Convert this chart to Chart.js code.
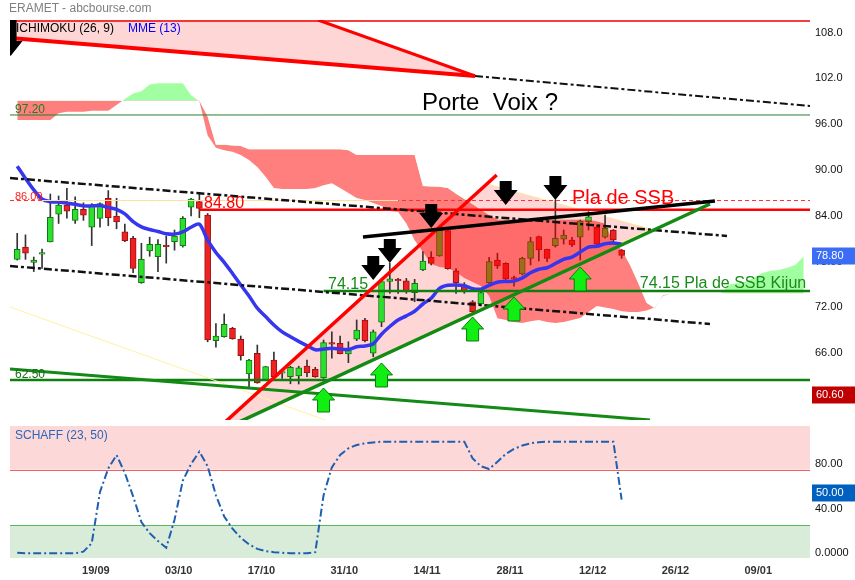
<!DOCTYPE html>
<html>
<head>
<meta charset="utf-8">
<script src="https://cdn.jsdelivr.net/npm/chart.js@4.4.0/dist/chart.umd.min.js"></script>
<style>
  body { margin: 0; background: #fff; width: 855px; height: 580px; overflow: hidden; position: relative; }
  #main { position: absolute; left: 0; top: 0; }
  #osc { position: absolute; left: 0; top: 423px; }
  #title { position: absolute; left: 9px; top: 1px; font: 12px "Liberation Sans", Arial, sans-serif; color: #808080; }
</style>
</head>
<body>
<canvas id="main" width="855" height="423"></canvas>
<canvas id="osc" width="855" height="157"></canvas>
<div id="title">ERAMET - abcbourse.com</div>
<script>
// daily candles, index 0 = 05/09
const opens = [78.3,79.9,77.9,78.96,80.57,84.2,85.4,83.4,84.85,82.5,
  83.67,86.3,83.97,81.9,81.05,75.24,79.4,78.65,80.14,80.6,
  80.05,85.13,85.85,84.1,67.65,68.17,69.27,67.83,63.3,66.0,
  62.5,65.12,63.46,62.94,63.03,64.33,63.9,62.8,67.4,67.3,
  65.9,67.83,70.36,66.0,70.06,75.42,75.62,75.5,73.93,76.9,
  78.57,78.76,82.05,76.81,74.94,72.75,72.45,75.24,78.21,77.78,
  75.9,76.38,78.43,81.27,79.6,80.08,80.93,80.83,81.19,83.23,
  82.49,81.19,82.14,79.52];
const highs = [81.7,81.5,78.6,79.65,86.85,86.6,87.6,86.5,85.7,85.6,
  85.7,87.3,86.3,82.9,81.3,80.4,81.2,80.9,81.36,82.14,
  83.9,86.3,87.0,84.3,69.9,71.14,69.4,68.26,65.2,67.08,
  64.3,66.16,63.8,64.3,64.3,65.12,64.16,67.74,68.8,68.26,
  67.5,70.36,70.58,69.05,75.6,77.8,75.8,75.8,75.68,79.3,
  79.3,82.3,82.14,77.1,75.24,72.9,74.06,78.57,79.1,77.86,
  76.1,78.57,81.19,81.36,79.65,86.07,82.14,81.19,83.45,84.54,
  82.8,84.1,82.2,79.6];
const lows = [78.2,78.3,76.7,77.1,80.57,83.0,83.7,83.0,83.4,80.1,
  82.5,82.7,82.3,80.6,76.55,75.16,78.7,76.7,77.8,79.5,
  79.9,83.97,83.75,67.5,66.8,68.1,67.83,65.1,61.6,62.07,
  62.4,62.6,62.7,62.0,61.97,62.94,62.85,62.7,65.35,65.9,
  64.77,67.65,67.5,65.55,69.48,73.85,73.85,73.85,72.75,76.8,
  77.56,78.7,77.0,73.85,73.85,71.3,72.2,75.16,77.1,75.5,
  74.8,76.25,77.56,78.1,78.0,79.9,80.3,79.95,78.21,82.14,
  79.95,81.07,80.6,78.43];
const closes = [79.6,79.1,78.2,79.2,83.8,85.4,84.6,84.85,84.07,85.4,
  85.6,83.75,83.2,80.74,77.1,78.3,80.27,80.27,79.96,81.36,
  83.67,86.2,84.98,67.74,68.26,69.8,67.9,65.68,65.12,62.1,
  64.25,62.94,63.55,64.16,64.1,63.46,62.94,67.4,67.2,65.95,
  66.34,69.05,67.65,68.8,75.37,75.75,75.55,74.06,75.16,78.08,
  77.78,82.14,77.07,75.24,74.06,71.45,73.93,77.99,77.43,75.72,
  75.7,78.43,80.61,79.52,78.43,81.05,81.49,80.18,83.32,83.88,
  80.3,82.36,80.83,78.8];

// MME (13)
const mme = [90.5,88.9,87.4,86.2,85.85,85.8,85.65,85.5,85.3,85.3,
  85.35,85.1,84.85,84.25,83.25,82.55,82.2,81.95,81.65,81.6,
  81.9,82.5,82.9,80.8,79.2,77.9,76.45,74.95,73.5,71.9,
  70.8,69.7,68.8,68.15,67.55,67.0,66.45,66.55,66.65,66.55,
  66.5,66.85,66.95,67.25,68.5,69.5,70.35,70.9,71.5,72.45,
  73.2,74.5,74.9,74.95,74.85,74.45,74.4,74.9,75.3,75.4,
  75.45,75.85,76.55,77.0,77.2,77.75,78.3,78.6,79.25,79.9,
  80.0,80.35,80.45,80.3];

// Ichimoku cloud, index 0..95 (already shifted forward)
const ssa = [96.55,96.55,96.55,96.55,96.55,97.42,97.63,97.63,97.63,97.76,
  97.76,97.76,98.5,99.3,100.0,100.3,101.2,101.35,101.35,101.35,
  101.35,99.8,99.0,94.5,92.9,92.6,92.4,91.96,91.3,90.4,
  89.1,87.64,87.5,87.5,87.5,87.5,87.64,88.0,88.26,87.64,
  86.99,86.33,86.07,85.68,85.28,84.63,84.5,83.0,80.8,79.3,
  77.7,77.3,77.17,76.64,75.86,75.33,74.8,73.5,70.6,70.36,
  70.1,69.96,70.2,70.36,70.1,69.96,70.1,70.36,70.62,71.4,
  72.2,72.0,71.8,71.5,71.4,71.4,71.6,72.0,73.5,73.9,
  73.9,73.9,73.9,73.9,73.9,73.9,75.0,75.2,75.4,75.9,
  76.5,76.8,76.9,77.2,77.6,78.7];
const ssb = [99.07,99.07,99.07,99.07,99.07,99.07,99.07,99.07,99.07,99.07,
  99.07,99.07,99.07,99.07,99.07,99.07,99.07,99.07,99.07,99.07,
  99.07,99.07,99.07,97.0,93.3,93.3,93.2,93.15,92.7,92.7,
  92.7,92.7,92.7,92.7,92.7,92.7,92.7,92.7,92.7,92.7,
  92.6,91.96,91.96,91.96,91.96,91.96,91.96,91.96,91.96,87.9,
  87.85,87.8,87.65,86.9,86.2,85.5,84.8,84.1,83.5,83.5,
  83.5,83.5,83.5,83.5,83.5,83.5,83.5,83.5,83.5,83.5,
  83.3,83.0,80.5,79.6,77.6,75.2,72.6,71.9,73.6,73.9,
  73.9,73.9,73.9,73.9,73.9,73.9,73.85,73.85,73.85,73.85,
  73.85,73.85,73.85,73.85,73.85,73.85];

// SCHAFF (23, 50)
const schaff = [0.5,0,0,0,0,0,0,0,1.5,9,
  55,76,88,72,51,28,18,11,5,30,
  65,80,91,78,52,33,22,14,8,4,
  2,1,0.5,0,0,0,1,52,77,88,
  94,97,98.5,99.3,100,100,100,100,100,100,
  100,100,100,100,100,85,78,75.5,82,89,
  93.5,96.5,98.5,99.5,100,100,100,100,100,100,
  100,100,100,48];

const mondayIdx = [10, 20, 30, 40, 50, 60, 70, 80, 90];
const mondayLabels = ['19/09', '03/10', '17/10', '31/10', '14/11', '28/11', '12/12', '26/12', '09/01'];
const priceTicks = [60, 66, 72, 78, 84, 90, 96, 102, 108];
const schaffTicks = [0, 40, 80];

// drawings, in (index, price)
const topLevel = 109.5;
const level97 = 97.20, level86 = 86.00, level8480 = 84.80, level7415 = 74.15, level6250 = 62.50;
const porteVoixRed = [[-0.87, 107.28], [55.29, 102.31]];
const porteVoixDash = [[55.29, 102.31], [95.75, 98.38]];
const porteVoixSteep = [[36.33, 109.64], [55.29, 102.31]];
const porteVoixZone = [[-2, 112], [30.2, 112], [55.29, 102.31], [-2, 107.38]];
const channelTop = [[-0.87, 88.95], [85.72, 81.36]];
const channelBottom = [[-0.87, 77.43], [83.67, 69.83]];
const resistance = [[41.76, 81.22], [84.27, 85.94]];
const redRise = [[23.4, 55.3], [57.91, 89.34]];
const greenRise = [[23.4, 55.3], [83.67, 85.55]];
const greenFall = [[-0.87, 63.94], [76.43, 57.26]];
const paleFall = [[-0.87, 72.06], [37.2, 57.26]];
const wedge = [[23.4, 55.3], [56.74, 88.17], [76.42, 82.27]];
const blackArrows = [[50, 82.4], [43, 75.6], [45, 77.82], [59, 85.42], [65, 86.07]];
const edgeArrow = [-0.8, 104.93];
const greenArrows = [[37, 61.45], [44, 64.73], [55, 70.75], [60, 73.37], [68, 77.3]];
const notes = [
  { text: '84.80', at: [22.56, 85.02], color: '#ff0000', size: 16 },
  { text: '74.15', at: [37.54, 74.35], color: '#1a8a1a', size: 16 },
  { text: 'Pla de SSB', at: [67.0, 85.55], color: '#ff0000', size: 20 },
  { text: '74.15 Pla de SSB Kijun', at: [75.2, 74.55], color: '#1a8a1a', size: 16 },
  { text: 'Porte  Voix ?', at: [48.89, 97.85], color: '#000000', size: 24 }
];
const lastPrice = 78.80, lowMark = 60.60, lastSchaff = 50.00;

const FONT = '"Liberation Sans", Arial, sans-serif';
Chart.defaults.font.family = FONT;

function P(chart, pt) {
  return [chart.scales.x.getPixelForValue(pt[0]), chart.scales.y.getPixelForValue(pt[1])];
}
function line(ctx, chart, pts, color, width, dash) {
  ctx.save();
  ctx.strokeStyle = color;
  ctx.lineWidth = width;
  ctx.setLineDash(dash || []);
  ctx.beginPath();
  pts.forEach((pt, k) => { const [x, y] = P(chart, pt); k ? ctx.lineTo(x, y) : ctx.moveTo(x, y); });
  ctx.stroke();
  ctx.restore();
}
function hline(ctx, chart, from, value, color, width, dash) {
  line(ctx, chart, [[from, value], [chart.scales.x.max, value]], color, width, dash);
}
function poly(ctx, chart, pts, fill, stroke) {
  ctx.beginPath();
  pts.forEach((pt, k) => { const [x, y] = P(chart, pt); k ? ctx.lineTo(x, y) : ctx.moveTo(x, y); });
  ctx.closePath();
  ctx.fillStyle = fill;
  ctx.fill();
  if (stroke) { ctx.strokeStyle = stroke; ctx.lineWidth = 1; ctx.stroke(); }
}
function downArrow(ctx, x, y, stem) {
  ctx.beginPath();
  ctx.moveTo(x, y);
  ctx.lineTo(x - 12, y - 15);
  ctx.lineTo(x - 6, y - 15);
  ctx.lineTo(x - 6, y - 15 - stem);
  ctx.lineTo(x + 6, y - 15 - stem);
  ctx.lineTo(x + 6, y - 15);
  ctx.lineTo(x + 12, y - 15);
  ctx.closePath();
  ctx.fillStyle = '#000';
  ctx.fill();
}
function upArrow(ctx, x, y) {
  ctx.beginPath();
  ctx.moveTo(x, y);
  ctx.lineTo(x + 11, y + 12);
  ctx.lineTo(x + 6, y + 12);
  ctx.lineTo(x + 6, y + 24);
  ctx.lineTo(x - 6, y + 24);
  ctx.lineTo(x - 6, y + 12);
  ctx.lineTo(x - 11, y + 12);
  ctx.closePath();
  ctx.fillStyle = '#11ee11';
  ctx.fill();
  ctx.strokeStyle = '#0a7a0a';
  ctx.lineWidth = 1;
  ctx.stroke();
}
function valueBox(ctx, chart, scale, value, text, bg, shift) {
  const y = scale.getPixelForValue(value) - (shift || 0);
  const x = chart.chartArea.right + 2;
  ctx.fillStyle = bg;
  ctx.fillRect(x, y - 8, chart.width - x, 17);
  ctx.fillStyle = '#fff';
  ctx.font = '11px ' + FONT;
  ctx.textBaseline = 'middle';
  ctx.textAlign = 'left';
  ctx.fillText(text, x + 4, y);
}
function flatAxis(s) {
  s.width = 45;
  s.paddingTop = 0;
  s.paddingBottom = 0;
}

const drawings = {
  id: 'drawings',
  beforeDatasetsDraw(chart) {
    const ctx = chart.ctx, a = chart.chartArea;
    ctx.save();
    ctx.beginPath();
    ctx.rect(a.left, a.top, a.right - a.left, a.bottom - a.top);
    ctx.clip();
    poly(ctx, chart, porteVoixZone, 'rgba(255,0,0,0.16)');
    poly(ctx, chart, wedge, 'rgba(255,0,0,0.16)', '#ffe49a');
    ctx.restore();
  },
  afterDatasetsDraw(chart) {
    const ctx = chart.ctx, a = chart.chartArea, xs = chart.scales.x, ys = chart.scales.y;
    ctx.save();
    ctx.beginPath();
    ctx.rect(a.left, a.top, a.right - a.left, a.bottom - a.top);
    ctx.clip();

    hline(ctx, chart, xs.min, topLevel, '#ee0000', 1.5);
    hline(ctx, chart, xs.min, level97, '#2a7d2a', 1);
    hline(ctx, chart, xs.min, level86, '#ff3030', 1, [4, 3]);
    line(ctx, chart, [[3, level86], [46, level86]], '#ffe3a0', 1);
    hline(ctx, chart, 22, level8480, '#ff0000', 2.5);
    hline(ctx, chart, 37, level7415, '#0f800f', 2.5);
    hline(ctx, chart, xs.min, level6250, '#0f800f', 2.5);

    line(ctx, chart, paleFall, '#fff2a0', 1);
    line(ctx, chart, channelTop, '#111', 2.5, [8, 3, 3, 3]);
    line(ctx, chart, channelBottom, '#111', 2.5, [8, 3, 3, 3]);
    line(ctx, chart, porteVoixDash, '#111', 2, [8, 3, 3, 3]);
    line(ctx, chart, porteVoixRed, '#ff0000', 4);
    line(ctx, chart, porteVoixSteep, '#ff0000', 3);
    line(ctx, chart, greenFall, '#138a13', 3);
    line(ctx, chart, redRise, '#ff0000', 3.5);
    line(ctx, chart, greenRise, '#138a13', 3.5);
    line(ctx, chart, resistance, '#000', 3.5);

    blackArrows.forEach(pt => { const [x, y] = P(chart, pt); downArrow(ctx, x, y, 9); });
    { const [x, y] = P(chart, edgeArrow); downArrow(ctx, x, y, 22); }
    greenArrows.forEach(pt => { const [x, y] = P(chart, pt); upArrow(ctx, x, y); });
    ctx.restore();

    ctx.save();
    ctx.textAlign = 'left';
    ctx.textBaseline = 'alphabetic';
    notes.forEach(n => {
      const [x, y] = P(chart, n.at);
      ctx.font = n.size + 'px ' + FONT;
      ctx.fillStyle = n.color;
      ctx.fillText(n.text, x, y);
    });
    ctx.font = '11px ' + FONT;
    ctx.fillStyle = '#ff2020';
    ctx.fillText('86.00', a.left + 5, ys.getPixelForValue(level86) - 1);
    ctx.font = '12px ' + FONT;
    ctx.fillStyle = '#1f7f1f';
    ctx.fillText('97.20', a.left + 5, ys.getPixelForValue(level97) - 2);
    ctx.fillStyle = '#1a6a1a';
    ctx.fillText('62.50', a.left + 5, ys.getPixelForValue(level6250) - 2);
    ctx.fillStyle = '#000';
    ctx.fillText('ICHIMOKU (26, 9)', a.left + 6, a.top + 12);
    ctx.fillStyle = '#0000ff';
    ctx.fillText('MME (13)', a.left + 118, a.top + 12);
    ctx.restore();
  },
  afterDraw(chart) {
    const ctx = chart.ctx, ys = chart.scales.y;
    ctx.save();
    valueBox(ctx, chart, ys, lastPrice, lastPrice.toFixed(2), '#3b6cf6');
    valueBox(ctx, chart, ys, lowMark, lowMark.toFixed(2), '#c00000');
    ctx.restore();
  }
};

const idx = closes.map((_, i) => i);
const up = idx.map(i => closes[i] >= opens[i]);

new Chart(document.getElementById('main'), {
  type: 'bar',
  data: {
    datasets: [
      {
        type: 'line', label: 'SSA',
        data: ssa.map((v, i) => ({ x: i, y: v })),
        borderWidth: 0, pointRadius: 0, borderColor: 'rgba(0,0,0,0)',
        fill: { target: '+1', above: 'rgba(0,255,0,0.37)', below: 'rgba(255,0,0,0.5)' },
        order: 3
      },
      {
        type: 'line', label: 'SSB',
        data: ssb.map((v, i) => ({ x: i, y: v })),
        borderWidth: 0, pointRadius: 0, borderColor: 'rgba(0,0,0,0)', fill: false,
        order: 3
      },
      {
        type: 'line', label: 'MME (13)',
        data: mme.map((v, i) => ({ x: i, y: v })),
        borderColor: '#3636ee', borderWidth: 3.5, pointRadius: 0, tension: 0.3, fill: false,
        order: 2
      },
      {
        label: 'wick',
        data: idx.map(i => ({ x: i, y: [lows[i], highs[i]] })),
        backgroundColor: '#333', barThickness: 1, grouped: false,
        order: 6
      },
      {
        label: 'body',
        data: idx.map(i => {
          const lo = Math.min(opens[i], closes[i]), hi = Math.max(opens[i], closes[i]);
          return { x: i, y: hi - lo < 0.12 ? [lo - 0.06, hi + 0.06] : [lo, hi] };
        }),
        backgroundColor: up.map(u => u ? '#2ee02e' : '#ee2222'),
        borderColor: up.map(u => u ? '#117711' : '#991111'),
        borderWidth: 1, borderSkipped: false, barThickness: 6, grouped: false,
        order: 5
      }
    ]
  },
  options: {
    responsive: false, animation: false,
    layout: { padding: { left: 10, top: 20, right: 0, bottom: 3 } },
    plugins: { legend: { display: false }, tooltip: { enabled: false } },
    scales: {
      x: { type: 'linear', min: -0.87, max: 95.75, offset: false, display: false },
      y: {
        position: 'right', min: 57.26, max: 109.64, beginAtZero: false,
        grid: { display: false, drawTicks: false }, border: { display: false },
        afterFit: flatAxis,
        afterBuildTicks(s) { s.ticks = priceTicks.map(v => ({ value: v })); },
        ticks: {
          padding: 5, color: '#111', font: { size: 11 },
          callback: v => v >= 100 ? v.toFixed(1) : v.toFixed(2)
        }
      }
    }
  },
  plugins: [drawings]
});

const bands = {
  id: 'bands',
  beforeDatasetsDraw(chart) {
    const ctx = chart.ctx, a = chart.chartArea, ys = chart.scales.y;
    const y75 = ys.getPixelForValue(75), y25 = ys.getPixelForValue(25);
    ctx.save();
    ctx.fillStyle = '#fdd8d8';
    ctx.fillRect(a.left, a.top, a.right - a.left, y75 - a.top);
    ctx.fillStyle = '#d9ecd9';
    ctx.fillRect(a.left, y25, a.right - a.left, a.bottom - y25);
    ctx.fillStyle = '#f06060';
    ctx.fillRect(a.left, Math.round(y75), a.right - a.left, 1);
    ctx.fillStyle = '#5cb85c';
    ctx.fillRect(a.left, Math.round(y25), a.right - a.left, 1);
    ctx.font = '12px ' + FONT;
    ctx.fillStyle = '#2c66b8';
    ctx.textBaseline = 'alphabetic';
    ctx.fillText('SCHAFF (23, 50)', a.left + 5, a.top + 13);
    ctx.restore();
  },
  afterDraw(chart) {
    const ctx = chart.ctx;
    ctx.save();
    valueBox(ctx, chart, chart.scales.y, lastSchaff, lastSchaff.toFixed(2), '#0060c0', 5);
    ctx.restore();
  }
};

new Chart(document.getElementById('osc'), {
  type: 'line',
  data: {
    datasets: [{
      label: 'SCHAFF (23, 50)',
      data: schaff.map((v, i) => ({ x: i, y: v })),
      borderColor: '#1f5fb0', borderWidth: 2, borderDash: [8, 3, 2, 3],
      pointRadius: 0, fill: false, tension: 0
    }]
  },
  options: {
    responsive: false, animation: false,
    layout: { padding: { left: 10, top: 3, right: 0, bottom: 0 } },
    plugins: { legend: { display: false }, tooltip: { enabled: false } },
    scales: {
      x: {
        type: 'linear', min: -0.87, max: 95.75, offset: false,
        grid: { display: false, drawTicks: false }, border: { display: false },
        afterFit(s) { s.height = 22; s.paddingLeft = 0; s.paddingRight = 0; },
        afterBuildTicks(s) { s.ticks = mondayIdx.map(m => ({ value: m - 0.5 })); },
        ticks: {
          padding: 6, color: '#333', font: { size: 11, weight: 'bold' },
          autoSkip: false, maxRotation: 0,
          callback: (v, k) => mondayLabels[k]
        }
      },
      y: {
        position: 'right', min: -4.2, max: 114,
        grid: { display: false, drawTicks: false }, border: { display: false },
        afterFit: flatAxis,
        afterBuildTicks(s) { s.ticks = schaffTicks.map(v => ({ value: v })); },
        ticks: {
          padding: 5, color: '#111', font: { size: 11 },
          callback: v => v === 0 ? '0.0000' : v.toFixed(2)
        }
      }
    }
  },
  plugins: [bands]
});
</script>
</body>
</html>
